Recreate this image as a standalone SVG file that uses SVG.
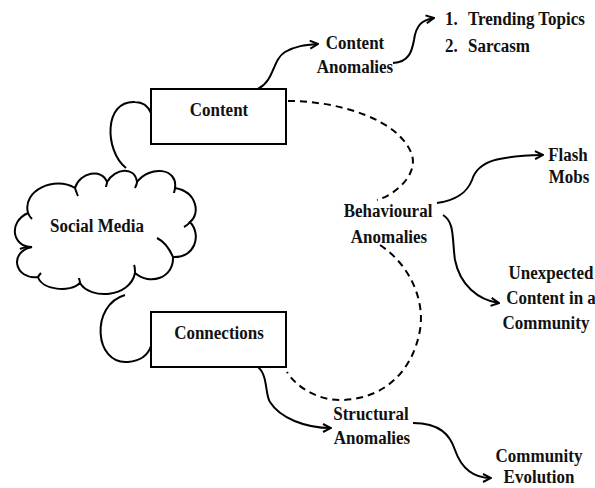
<svg xmlns="http://www.w3.org/2000/svg" width="595" height="488" viewBox="0 0 595 488">
<defs>
<marker id="arr" viewBox="0 0 10 10" refX="9" refY="5" markerWidth="5" markerHeight="5" orient="auto" markerUnits="strokeWidth">
<path d="M1,1 L9,5 L1,9" fill="none" stroke="#000" stroke-width="2"/>
</marker>
</defs>
<style>
text{font-family:'Liberation Serif','DejaVu Serif',serif;font-weight:bold;font-size:17px;fill:#111;text-anchor:middle}
.l{text-anchor:start}
.ln{fill:none;stroke:#000;stroke-width:2}
.ar{marker-end:url(#arr)}
.da{fill:none;stroke:#000;stroke-width:2;stroke-dasharray:7 5}
.box{fill:#fff;stroke:#000;stroke-width:2}
</style>
<rect width="595" height="488" fill="#fff"/>
<g id="connectors">
<path class="ln" d="M126,168 C104,150 104,100 135,102 C143,102 148,106 151,113"/>
<path class="ln" d="M125,295 C90,305 94,365 128,362 C140,361 148,355 151,346"/>
<path class="ln ar" d="M258,89 C275,80 272,60 285,52 C295,46 305,45 318,44"/>
<path class="ln ar" d="M393,63 C410,62 412,50 414,40 C416,25 422,20 434,18"/>
<path class="da" d="M288,101 C340,101 400,120 412,155 C418,175 395,195 377,200"/>
<path class="ln ar" d="M437,203 C460,200 468,190 472,180 C478,160 500,156 543,155"/>
<path class="ln ar" d="M443,215 C455,222 452,240 455,260 C460,285 478,300 499,303"/>
<path class="da" d="M380,245 C410,265 425,300 420,330 C412,375 380,400 340,400 C315,400 295,385 287,372"/>
<path class="ln ar" d="M258,367 C268,375 265,395 270,402 C280,418 305,428 331,428"/>
<path class="ln ar" d="M413,423 C440,423 450,435 455,450 C462,470 475,478 491,478"/>
</g>
<g id="social-media">
<path class="ln" fill="#fff" d="M32,247 C12,247 8,222 28,213 C22,190 55,176 75,188 C80,172 102,168 107,182 C115,168 135,166 137,182 C150,165 178,168 175,188 C198,192 200,215 190,222 C202,235 195,258 173,257 C174,278 150,286 135,273 C130,298 90,300 80,283 C70,293 42,290 38,277 C15,280 8,252 32,247 Z"/>
<path class="ln" d="M28,213 C29,216 31,218 32,219 M75,188 C76,191 77,194 78,196 M107,182 C107,184 106,186 106,187 M137,182 C137,184 136,186 135,188 M175,188 C175,190 174,192 174,193 M190,222 C188,225 186,226 184,227 M157,238 C165,242 170,250 173,257 M135,273 C135,270 135,267 134,265 M80,283 C80,281 79,279 79,278 M38,277 C39,275 40,274 41,273 M32,247 C26,247 22,248 20,249"/>
<text transform="translate(97,232) scale(1,1.12)">Social Media</text>
</g>
<g id="content">
<rect class="box" x="151" y="89" width="135" height="55"/>
<text transform="translate(219,116) scale(1,1.12)">Content</text>
</g>
<g id="connections">
<rect class="box" x="151" y="312" width="135" height="55"/>
<text transform="translate(219,339) scale(1,1.12)">Connections</text>
</g>
<g id="content-anomalies">
<text transform="translate(355,49) scale(1,1.12)">Content</text>
<text transform="translate(355,73) scale(1,1.12)">Anomalies</text>
</g>
<g id="content-list">
<text class="l" transform="translate(445,25) scale(1,1.12)">1.</text>
<text class="l" transform="translate(468,25) scale(1,1.12)">Trending Topics</text>
<text class="l" transform="translate(445,52) scale(1,1.12)">2.</text>
<text class="l" transform="translate(468,52) scale(1,1.12)">Sarcasm</text>
</g>
<g id="behavioural-anomalies">
<text transform="translate(388,217) scale(1,1.12)">Behavioural</text>
<text transform="translate(389,243) scale(1,1.12)">Anomalies</text>
</g>
<g id="flash-mobs">
<text transform="translate(568,161) scale(1,1.12)">Flash</text>
<text transform="translate(569,183) scale(1,1.12)">Mobs</text>
</g>
<g id="unexpected-content">
<text transform="translate(551,279) scale(1,1.12)">Unexpected</text>
<text transform="translate(551,304) scale(1,1.12)">Content in a</text>
<text transform="translate(546,329) scale(1,1.12)">Community</text>
</g>
<g id="structural-anomalies">
<text transform="translate(371,420) scale(1,1.12)">Structural</text>
<text transform="translate(372,444) scale(1,1.12)">Anomalies</text>
</g>
<g id="community-evolution">
<text transform="translate(539,462) scale(1,1.12)">Community</text>
<text transform="translate(539,483) scale(1,1.12)">Evolution</text>
</g>
</svg>
